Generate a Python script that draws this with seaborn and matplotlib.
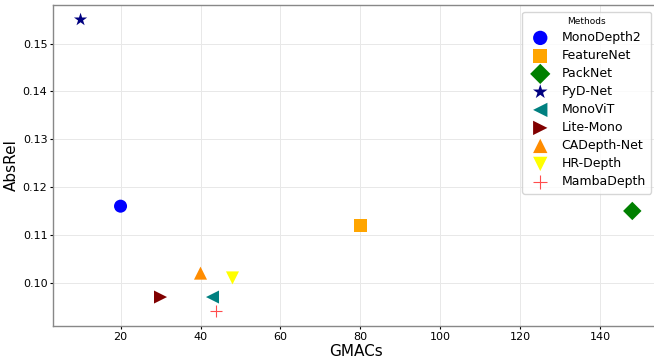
import matplotlib
matplotlib.use("Agg")
import matplotlib.pyplot as plt
import seaborn as sns
import pandas as pd

# dados
metodos = ["MonoDepth2", "FeatureNet", "PackNet", "PyD-Net", "MonoViT",
           "Lite-Mono", "CADepth-Net", "HR-Depth", "MambaDepth"]
gmacs = [20, 80, 148, 10, 43, 30, 40, 48, 44]
absrel = [0.116, 0.112, 0.115, 0.155, 0.097, 0.097, 0.102, 0.101, 0.094]
marcadores = ["o", "s", "D", "*", "<", ">", "^", "v", "+"]
cores = ["blue", "orange", "green", "navy", "teal", "maroon", "darkorange", "yellow", "red"]
tamanhos = [88, 80, 88, 100, 88, 88, 88, 88, 80]

df = pd.DataFrame({"metodo": metodos, "gmacs": gmacs, "absrel": absrel})

sns.set_theme(style="whitegrid")
plt.rcParams['font.family'] = ['DejaVu Sans']
plt.rcParams.update({"text.color": "black", "axes.labelcolor": "black",
                     "xtick.color": "black", "ytick.color": "black"})

fig, ax = plt.subplots(figsize=(6.54, 3.61), dpi=100)
fig.subplots_adjust(left=0.081, right=1.009, bottom=0.097, top=0.986)

for i, nome in enumerate(metodos):
    sub = df[df["metodo"] == nome]
    kw = dict(edgecolor="none") if marcadores[i] != "+" else dict(linewidth=0.8, alpha=0.7)
    sns.scatterplot(data=sub, x="gmacs", y="absrel", marker=marcadores[i],
                    color=cores[i], s=tamanhos[i], label=nome, ax=ax, **kw)

ax.set_xlim(3.1, 154.9)
ax.set_ylim(0.09095, 0.15805)
ax.set_xlabel("GMACs", fontsize=11, labelpad=2)
ax.set_ylabel("AbsRel", fontsize=11, labelpad=3)
ax.tick_params(axis="both", labelsize=8, length=2.5, width=0.8, pad=1.5)
ax.tick_params(left=True, bottom=True)
for t in ax.get_xticklines() + ax.get_yticklines():
    t.set_color("#888888")
ax.grid(color="#e8e8e8", linewidth=0.7)
for sp in ax.spines.values():
    sp.set_color("#888888")
    sp.set_linewidth(1.0)

leg = ax.legend(title="Methods", loc="upper right", bbox_to_anchor=(0.996, 0.968),
                bbox_transform=fig.transFigure, fontsize=9, title_fontsize=6.5,
                frameon=True, labelspacing=0.40, handletextpad=0.7, borderpad=0.45,
                borderaxespad=0, markerscale=1.1)
leg.get_frame().set_edgecolor("#cccccc")

plt.savefig("out.png", dpi=100)
